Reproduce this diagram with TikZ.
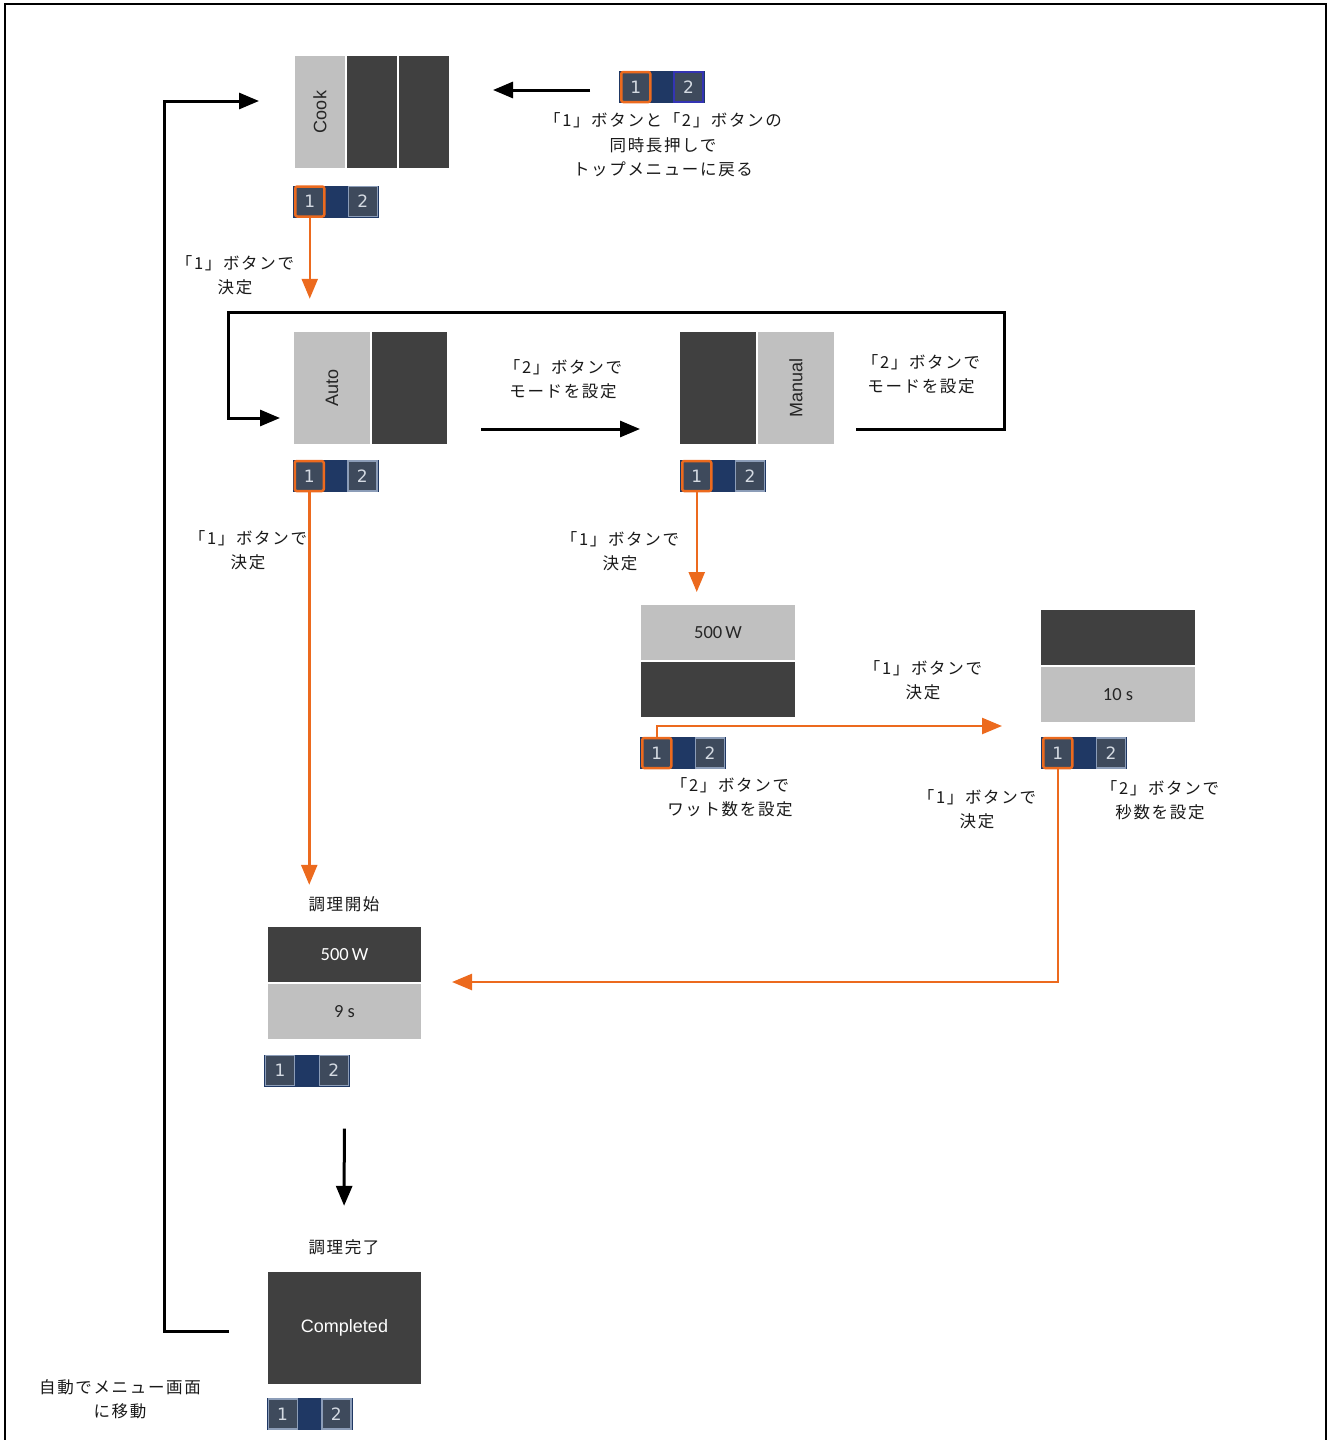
\documentclass[tikz,border=0pt]{standalone}
\usepackage{fontspec}
\setmainfont{Liberation Sans}
\newfontfamily\jpfont[LetterSpace=10]{Noto Sans CJK JP}
\newfontfamily\calfont{Carlito}
\newfontfamily\digfont{DejaVu Sans}
\usepackage{tikz}
\usetikzlibrary{arrows.meta,positioning}
\definecolor{scrLite}{HTML}{C0C0C0}
\definecolor{scrDark}{HTML}{404040}
\definecolor{barBlue}{HTML}{1F3864}
\definecolor{btnFill}{HTML}{3E4A5C}
\definecolor{btnEdge}{HTML}{8C9DB8}
\definecolor{btnText}{HTML}{D4DAE2}
\definecolor{accent}{HTML}{EC6A1E}
\definecolor{selBlue}{HTML}{3434B4}

% button strip: name, centre, style of "1", style of "2"
\newcommand{\btnbar}[4]{%
  \node[bar] (#1) at (#2) {};
  \node[btn, #3, anchor=west] (#1-1) at ([xshift=1pt]#1.west) {1};
  \node[btn, #4, anchor=east] (#1-2) at ([xshift=-1pt]#1.east) {2};
}

\begin{document}
\begin{tikzpicture}[x=1pt, y=-1pt,
    panel/.style={rectangle, inner sep=0pt, outer sep=0pt, minimum height=112pt,
                  text=black!85, font=\fontsize{18}{20}\selectfont},
    half/.style={panel, minimum width=154pt, minimum height=55pt, font=\calfont\fontsize{18.5}{20}\selectfont},
    lite/.style={fill=scrLite},
    dark/.style={fill=scrDark},
    bar/.style={fill=barBlue, minimum width=86pt, minimum height=32pt, inner sep=0pt, outer sep=0pt},
    btn/.style={draw=btnEdge, line width=1.2pt, fill=btnFill, text=btnText, minimum width=29pt,
                minimum height=30pt, inner sep=0pt, font=\digfont\fontsize{17}{17}\selectfont},
    hot/.style={draw=accent, line width=2.5pt, rounded corners=2pt},
    sel/.style={draw=selBlue, line width=2pt},
    note/.style={align=center, text=black!90, font=\jpfont\fontsize{16.5}{24.5}\selectfont},
    arrow/.style={-{Triangle[length=20pt,width=16pt]}, line width=3pt},
    oarrow/.style={arrow, draw=accent, line width=2.5pt}
]
\useasboundingbox (0,0) rectangle (1330,1440);
\draw[line width=2.5pt] (5,1446) -- (5,4) -- (1326,4) -- (1326,1446);

% top menu
\node[panel, lite, minimum width=50pt] (cook-a) at (320,112) {\rotatebox{90}{Cook}};
\node[panel, dark, minimum width=50pt, right=2pt of cook-a] (cook-b) {};
\node[panel, dark, minimum width=50pt, right=2pt of cook-b] (cook-c) {};
\btnbar{cookbar}{336,201.5}{hot}{}
\btnbar{topbar}{662,87}{hot}{sel}
\node[note] (retlbl) at (663,145) {「1」ボタンと「2」ボタンの\\同時長押しで\\トップメニューに戻る};
\node[note] (lbl1) at (235,275) {「1」ボタンで\\決定};

% mode select
\node[panel, lite, minimum width=76pt] (auto-a) at (332,388) {\rotatebox{90}{Auto}};
\node[panel, dark, minimum width=75pt, right=2pt of auto-a] (auto-b) {};
\btnbar{autobar}{335.5,476}{hot}{}
\node[panel, dark, minimum width=76pt] (man-a) at (718,388) {};
\node[panel, lite, minimum width=76pt, right=2pt of man-a] (man-b) {\rotatebox{90}{Manual}};
\btnbar{manbar}{723,476}{hot}{}
\node[note] (lbl2) at (248,550) {「1」ボタンで\\決定};
\node[note] (lbl3) at (563,379) {「2」ボタンで\\モードを設定};
\node[note] (lbl4) at (921,374) {「2」ボタンで\\モードを設定};
\node[note] (lbl5) at (620,551) {「1」ボタンで\\決定};

% watt / seconds
\node[half, lite] (watt-a) at (718,632.5) {500\,W};
\node[half, dark, below=2pt of watt-a] (watt-b) {};
\btnbar{wattbar}{683,753}{hot}{}
\node[half, dark] (sec-a) at (1118,637.5) {};
\node[half, lite, below=2pt of sec-a] (sec-b) {10 s};
\btnbar{secbar}{1084,753}{hot}{}
\node[note] (lbl6) at (923,680) {「1」ボタンで\\決定};
\node[note] (lbl7) at (730,797) {「2」ボタンで\\ワット数を設定};
\node[note] (lbl8) at (977,809) {「1」ボタンで\\決定};
\node[note] (lbl9) at (1160,800) {「2」ボタンで\\秒数を設定};

% cooking
\node[note] (startlbl) at (344,904) {調理開始};
\node[half, dark, minimum width=153pt, text=white] (start-a) at (344.5,954.5) {500\,W};
\node[half, lite, minimum width=153pt, below=2pt of start-a] (start-b) {9 s};
\btnbar{startbar}{307,1070.5}{}{}
\node[note] (donelbl) at (344,1247) {調理完了};
\node[panel, dark, minimum width=153pt, text=white] (done) at (344.5,1328) {Completed};
\btnbar{donebar}{309.5,1414}{}{}
\node[note] (backlbl) at (120,1399) {自動でメニュー画面\\に移動};

% free ends
\coordinate (retS) at (590,90);
\coordinate (retE) at (493,90);
\coordinate (loopS) at (856,429);
\coordinate (loopE) at (280,418);
\coordinate (modeS) at (481,429);
\coordinate (modeE) at (640,429);
\coordinate (wattE) at (1002,726);
\coordinate (backS) at (229,1331);
\coordinate (backE) at (259,101);

\draw[arrow] (retS) -- (retE);
\draw[arrow] (modeS) -- (modeE);
\draw[arrow] (loopS) -- ++(148,0) |- ++(-776,-117) |- (loopE);
\draw[arrow] (backS) -- ++(-65,0) |- (backE);
\draw[arrow, shorten <=42pt, shorten >=30pt] (startbar.south -| done.center) -- (donelbl.north);

\draw[oarrow] (cookbar-1.south) -- ++(0,81);
\draw[oarrow, shorten >=8pt] (autobar-1.south) -- (autobar-1.south |- startlbl.north);
\draw[oarrow, shorten >=13pt] (manbar-1.south) -- (manbar-1.south |- watt-a.north);
\draw[oarrow] (wattbar-1.north) |- (wattE);
\draw[oarrow, shorten >=31pt] (secbar-1.south) |- (start-a.south east);
\end{tikzpicture}
\end{document}
